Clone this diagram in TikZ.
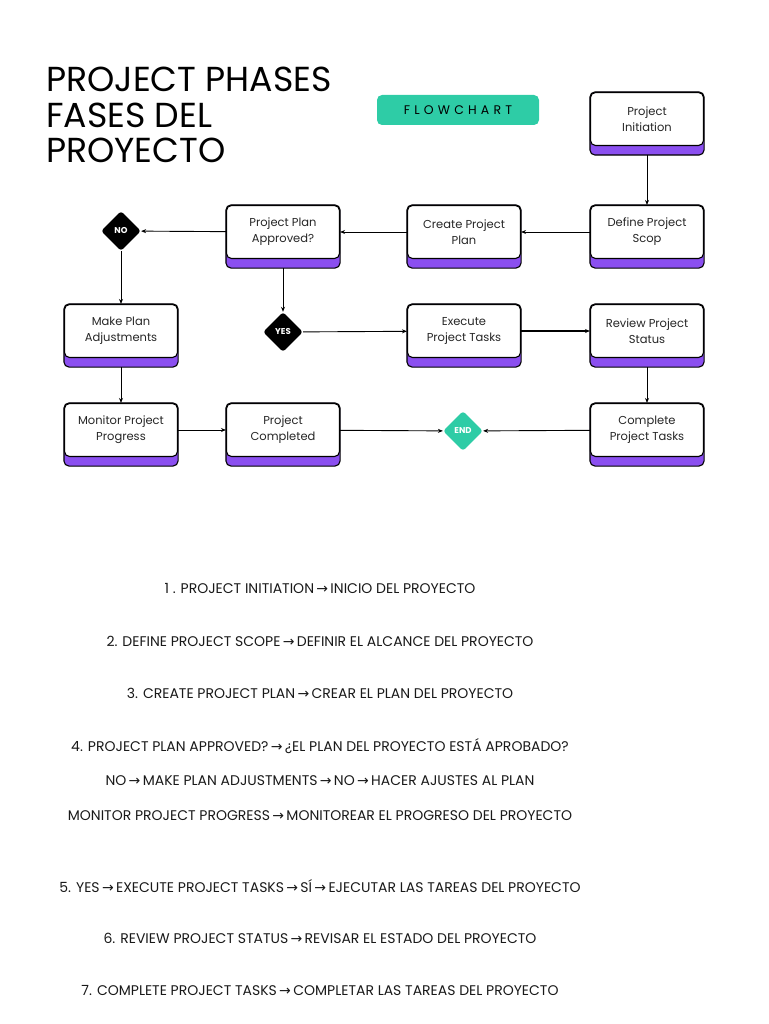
\documentclass[tikz,border=0pt]{standalone}
\usepackage{fontspec}
\setmainfont{Poppins}
\newfontfamily\dvs{DejaVu Sans}
\usetikzlibrary{shapes.geometric,backgrounds,arrows.meta}
\definecolor{vio}{HTML}{8B4FF0}
\definecolor{teal}{HTML}{2ECCA6}
\newcommand{\ar}{{\dvs\,→\,}}
\begin{document}
\begin{tikzpicture}[x=1pt,y=-1pt,
 box/.style={draw=black,line width=1.1pt,fill=white,rounded corners=5pt,minimum width=113pt,minimum height=53pt,align=center,font=\fontsize{11.5}{16}\selectfont,text=black!85},
 dia/.style={diamond,fill=black,text=white,font=\fontsize{8.5}{9}\selectfont\bfseries,minimum size=40pt,inner sep=0pt,rounded corners=3pt},
 con/.style={-{Stealth[length=5pt,width=4pt]},line width=0.9pt},
 foot/.style={font=\fontsize{14}{16}\selectfont,text=black!90}]
\useasboundingbox (0,0) rectangle (768,1024);
\node[anchor=north west,align=left,font=\fontsize{34.7}{35.5}\selectfont,inner sep=0pt] (title) at (46,67) {PROJECT PHASES\\FASES DEL\\PROYECTO};
\node[fill=teal,rounded corners=5pt,minimum width=162pt,minimum height=30pt,font=\fontsize{12.5}{13}\selectfont] (fc) at (458,110) {F\,\,L\,\,O\,\,W\,\,C\,\,H\,\,A\,\,R\,\,T};
\node[box] (init) at (647,119) {Project\\Initiation};
\node[box] (scop) at (647,232) {Define Project\\Scop};
\node[box] (plan) at (464,232) {Create Project\\Plan};
\node[box] (appr) at (283,232) {Project Plan\\Approved?};
\node[box] (make) at (121,331) {Make Plan\\Adjustments};
\node[box] (exec) at (464,331) {Execute\\Project Tasks};
\node[box] (rev) at (647,331) {Review Project\\Status};
\node[box] (mon) at (121,430) {Monitor Project\\Progress};
\node[box] (done) at (283,430) {Project\\Completed};
\node[box] (comp) at (647,430) {Complete\\Project Tasks};
\node[dia] (no) at (121,231) {NO};
\node[dia] (yes) at (283,332) {YES};
\node[dia,fill=teal] (end) at (463,431) {END};
\begin{scope}[on background layer]
\foreach \n in {init,scop,plan,appr,make,exec,rev,mon,done,comp}
 \filldraw[fill=vio,draw=black,line width=1.1pt,rounded corners=5pt] (\n.north west) rectangle ([yshift=-9pt]\n.south east);
\end{scope}
\draw[con] ([yshift=-9pt]init.south) -- (scop);
\draw[con] (scop) -- (plan);
\draw[con] (plan) -- (appr);
\draw[con] (appr) -- (no);
\draw[con] (no) -- (make);
\draw[con] ([yshift=-9pt]make.south) -- (mon);
\draw[con] (mon) -- (done);
\draw[con] (done) -- (end);
\draw[con] (comp) -- (end);
\draw[con] ([yshift=-9pt]appr.south) -- (yes);
\draw[con] (yes) -- (exec);
\draw[con,line width=1.2pt] (exec) -- (rev);
\draw[con] ([yshift=-9pt]rev.south) -- (comp);
\node[foot] (t1) at (320,588) {1 . PROJECT INITIATION\ar INICIO DEL PROYECTO};
\node[foot] (t2) at (320,641) {2. DEFINE PROJECT SCOPE\ar DEFINIR EL ALCANCE DEL PROYECTO};
\node[foot] (t3) at (320,693) {3. CREATE PROJECT PLAN\ar CREAR EL PLAN DEL PROYECTO};
\node[foot] (t4) at (320,746) {4. PROJECT PLAN APPROVED?\ar ¿EL PLAN DEL PROYECTO ESTÁ APROBADO?};
\node[foot] (t5) at (320,781) {NO\ar MAKE PLAN ADJUSTMENTS\ar NO\ar HACER AJUSTES AL PLAN};
\node[foot] (t6) at (320,816) {MONITOR PROJECT PROGRESS\ar MONITOREAR EL PROGRESO DEL PROYECTO};
\node[foot] (t7) at (320,886) {5. YES\ar EXECUTE PROJECT TASKS\ar SÍ\ar EJECUTAR LAS TAREAS DEL PROYECTO};
\node[foot] (t8) at (320,938) {6. REVIEW PROJECT STATUS\ar REVISAR EL ESTADO DEL PROYECTO};
\node[foot] (t9) at (320,990) {7. COMPLETE PROJECT TASKS\ar COMPLETAR LAS TAREAS DEL PROYECTO};
\end{tikzpicture}
\end{document}
